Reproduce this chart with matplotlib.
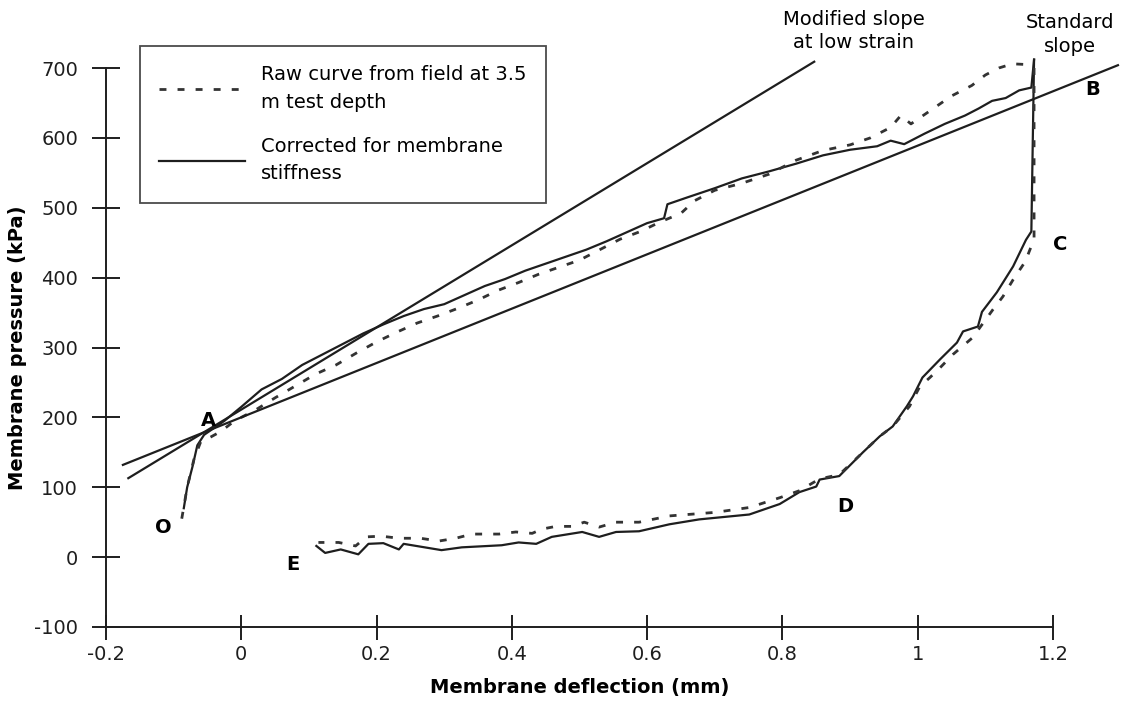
import matplotlib
matplotlib.use("Agg")
import matplotlib.pyplot as plt
from matplotlib.lines import Line2D

plt.rcParams["font.family"] = ["DejaVu Sans"]
plt.rcParams["axes.unicode_minus"] = False

# corrected curve (solid), loading branch O -> A -> B
load_x = [-0.085, -0.080, -0.072, -0.065, -0.055, -0.040, -0.025, 0.000, 0.030, 0.060,
          0.090, 0.120, 0.150, 0.180, 0.210, 0.240, 0.270, 0.300, 0.330, 0.360,
          0.390, 0.420, 0.450, 0.480, 0.510, 0.540, 0.570, 0.600, 0.625, 0.630,
          0.660, 0.700, 0.740, 0.780, 0.820, 0.860, 0.900, 0.940, 0.960, 0.980,
          1.010, 1.040, 1.070, 1.090, 1.110, 1.130, 1.150, 1.168, 1.172]
load_y = [70, 100, 130, 160, 175, 185, 195, 215, 240, 255,
          275, 290, 305, 320, 333, 345, 355, 362, 375, 388,
          398, 410, 420, 430, 440, 452, 465, 478, 485, 505,
          515, 528, 542, 552, 563, 575, 583, 588, 596, 591,
          606, 620, 632, 642, 653, 657, 668, 672, 712]

# corrected curve (solid), unloading branch B -> C -> D -> E
unload_x = [1.172, 1.168, 1.160, 1.141, 1.117, 1.095, 1.089, 1.067, 1.058, 1.033,
            1.007, 0.993, 0.984, 0.963, 0.944, 0.919, 0.884, 0.855, 0.850, 0.825,
            0.796, 0.751, 0.677, 0.633, 0.588, 0.554, 0.529, 0.504, 0.459, 0.436,
            0.410, 0.385, 0.326, 0.296, 0.240, 0.233, 0.210, 0.188, 0.173, 0.147,
            0.124, 0.111]
unload_y = [712, 466, 454, 416, 379, 351, 330, 323, 307, 283,
            257, 230, 216, 187, 173, 150, 116, 111, 101, 93,
            76, 61, 54, 47, 37, 36, 29, 36, 29, 19,
            21, 17, 14, 10, 19, 11, 20, 19, 4, 11,
            6, 16]

# raw field curve (dashed), loading
raw_load_x = [-0.088, -0.080, -0.070, -0.060, -0.045, -0.030, -0.010, 0.020, 0.050, 0.080,
              0.110, 0.140, 0.170, 0.200, 0.230, 0.260, 0.290, 0.320, 0.350, 0.380,
              0.410, 0.440, 0.470, 0.500, 0.530, 0.560, 0.590, 0.620, 0.650, 0.670,
              0.700, 0.740, 0.780, 0.820, 0.860, 0.900, 0.930, 0.960, 0.975, 0.990,
              1.020, 1.050, 1.080, 1.100, 1.120, 1.140, 1.160, 1.172]
raw_load_y = [55, 100, 140, 165, 172, 180, 195, 210, 228, 245,
              262, 275, 292, 308, 322, 335, 345, 356, 368, 382,
              393, 405, 415, 425, 440, 455, 466, 480, 492, 510,
              525, 535, 548, 568, 582, 590, 600, 615, 632, 620,
              640, 660, 675, 690, 700, 706, 705, 700]

# raw field curve (dashed), unloading
raw_unload_x = [1.172, 1.172, 1.159, 1.141, 1.126, 1.111, 1.081, 1.052, 1.033, 1.018,
                1.003, 0.988, 0.963, 0.944, 0.919, 0.884, 0.855, 0.825, 0.796, 0.751,
                0.700, 0.633, 0.618, 0.588, 0.554, 0.529, 0.507, 0.489, 0.465, 0.444,
                0.430, 0.406, 0.381, 0.341, 0.317, 0.292, 0.265, 0.233, 0.207, 0.185,
                0.169, 0.144, 0.114]
raw_unload_y = [700, 455, 423, 397, 373, 354, 314, 290, 271, 257,
                244, 216, 187, 173, 150, 118, 112, 95, 85, 71,
                64, 59, 56, 50, 50, 43, 50, 44, 44, 40,
                34, 36, 33, 33, 27, 23, 27, 27, 30, 29,
                16, 21, 21]

# straight reference slopes
mod_slope_x = [-0.167, 0.847]
mod_slope_y = [113, 709]
std_slope_x = [-0.175, 1.296]
std_slope_y = [132, 704]

x_ticks = [-0.2, 0, 0.2, 0.4, 0.6, 0.8, 1.0, 1.2]
x_labels = ["-0.2", "0", "0.2", "0.4", "0.6", "0.8", "1", "1.2"]
y_ticks = [-100, 0, 100, 200, 300, 400, 500, 600, 700]

fig = plt.figure(figsize=(11.27, 7.08), dpi=100)
ax = fig.add_axes([106 / 1127, 1 - 627 / 708, (1053 - 106) / 1127, (627 - 68) / 708])

ink = "#1e1e1e"
lw = 1.6
dash = (0, (2.5, 4))
ax.plot(load_x, load_y, color=ink, lw=lw, clip_on=False)
ax.plot(unload_x, unload_y, color=ink, lw=lw, clip_on=False)
ax.plot(raw_load_x, raw_load_y, color="#333333", lw=2.0, ls=dash, clip_on=False)
ax.plot(raw_unload_x, raw_unload_y, color="#333333", lw=2.0, ls=dash, clip_on=False)
ax.plot(mod_slope_x, mod_slope_y, color=ink, lw=lw, clip_on=False)
ax.plot(std_slope_x, std_slope_y, color=ink, lw=lw, clip_on=False)

ax.set_xlim(-0.2, 1.2)
ax.set_ylim(-100, 700)
ax.spines["top"].set_visible(False)
ax.spines["right"].set_visible(False)
for s in ("left", "bottom"):
    ax.spines[s].set_color(ink)
    ax.spines[s].set_linewidth(1.4)
ax.set_xticks(x_ticks)
ax.set_xticklabels(x_labels)
ax.set_yticks(y_ticks)
ax.tick_params(direction="inout", width=1.4, labelsize=14, colors=ink)
ax.tick_params(axis="x", length=18, pad=4)
ax.tick_params(axis="y", length=20, pad=10)

ax.set_xlabel("Membrane deflection (mm)", fontsize=14, fontweight="bold", labelpad=10)
ax.set_ylabel("Membrane pressure (kPa)", fontsize=14, fontweight="bold", labelpad=5)

# point labels
for lbl, px, py in [("O", -0.116, 42), ("A", -0.049, 196), ("B", 1.259, 669),
                    ("C", 1.211, 447), ("D", 0.893, 72), ("E", 0.077, -11)]:
    ax.text(px, py, lbl, fontsize=14, fontweight="bold", ha="center", va="center",
            clip_on=False)

ax.text(0.905, 753, "Modified slope\nat low strain", fontsize=14, ha="center",
        va="center", linespacing=1.3, clip_on=False)
ax.text(1.225, 748, "Standard\nslope", fontsize=14, ha="center", va="center",
        linespacing=1.35, clip_on=False)

handles = [Line2D([], [], color="#333333", lw=2.0, ls=dash),
           Line2D([], [], color=ink, lw=lw)]
labels = ["Raw curve from field at 3.5\nm test depth", "Corrected for membrane\nstiffness"]
leg = fig.legend(handles, labels, loc="upper left", bbox_to_anchor=(140 / 1127, 1 - 46 / 708),
                 borderaxespad=0, fontsize=14, frameon=True, fancybox=False, edgecolor=ink,
                 handlelength=4.4, borderpad=1.0, labelspacing=1.3, handletextpad=0.8)
leg.get_frame().set_linewidth(1.3)
for t in leg.get_texts():
    t.set_linespacing(1.55)

fig.savefig("out.png", dpi=100)
